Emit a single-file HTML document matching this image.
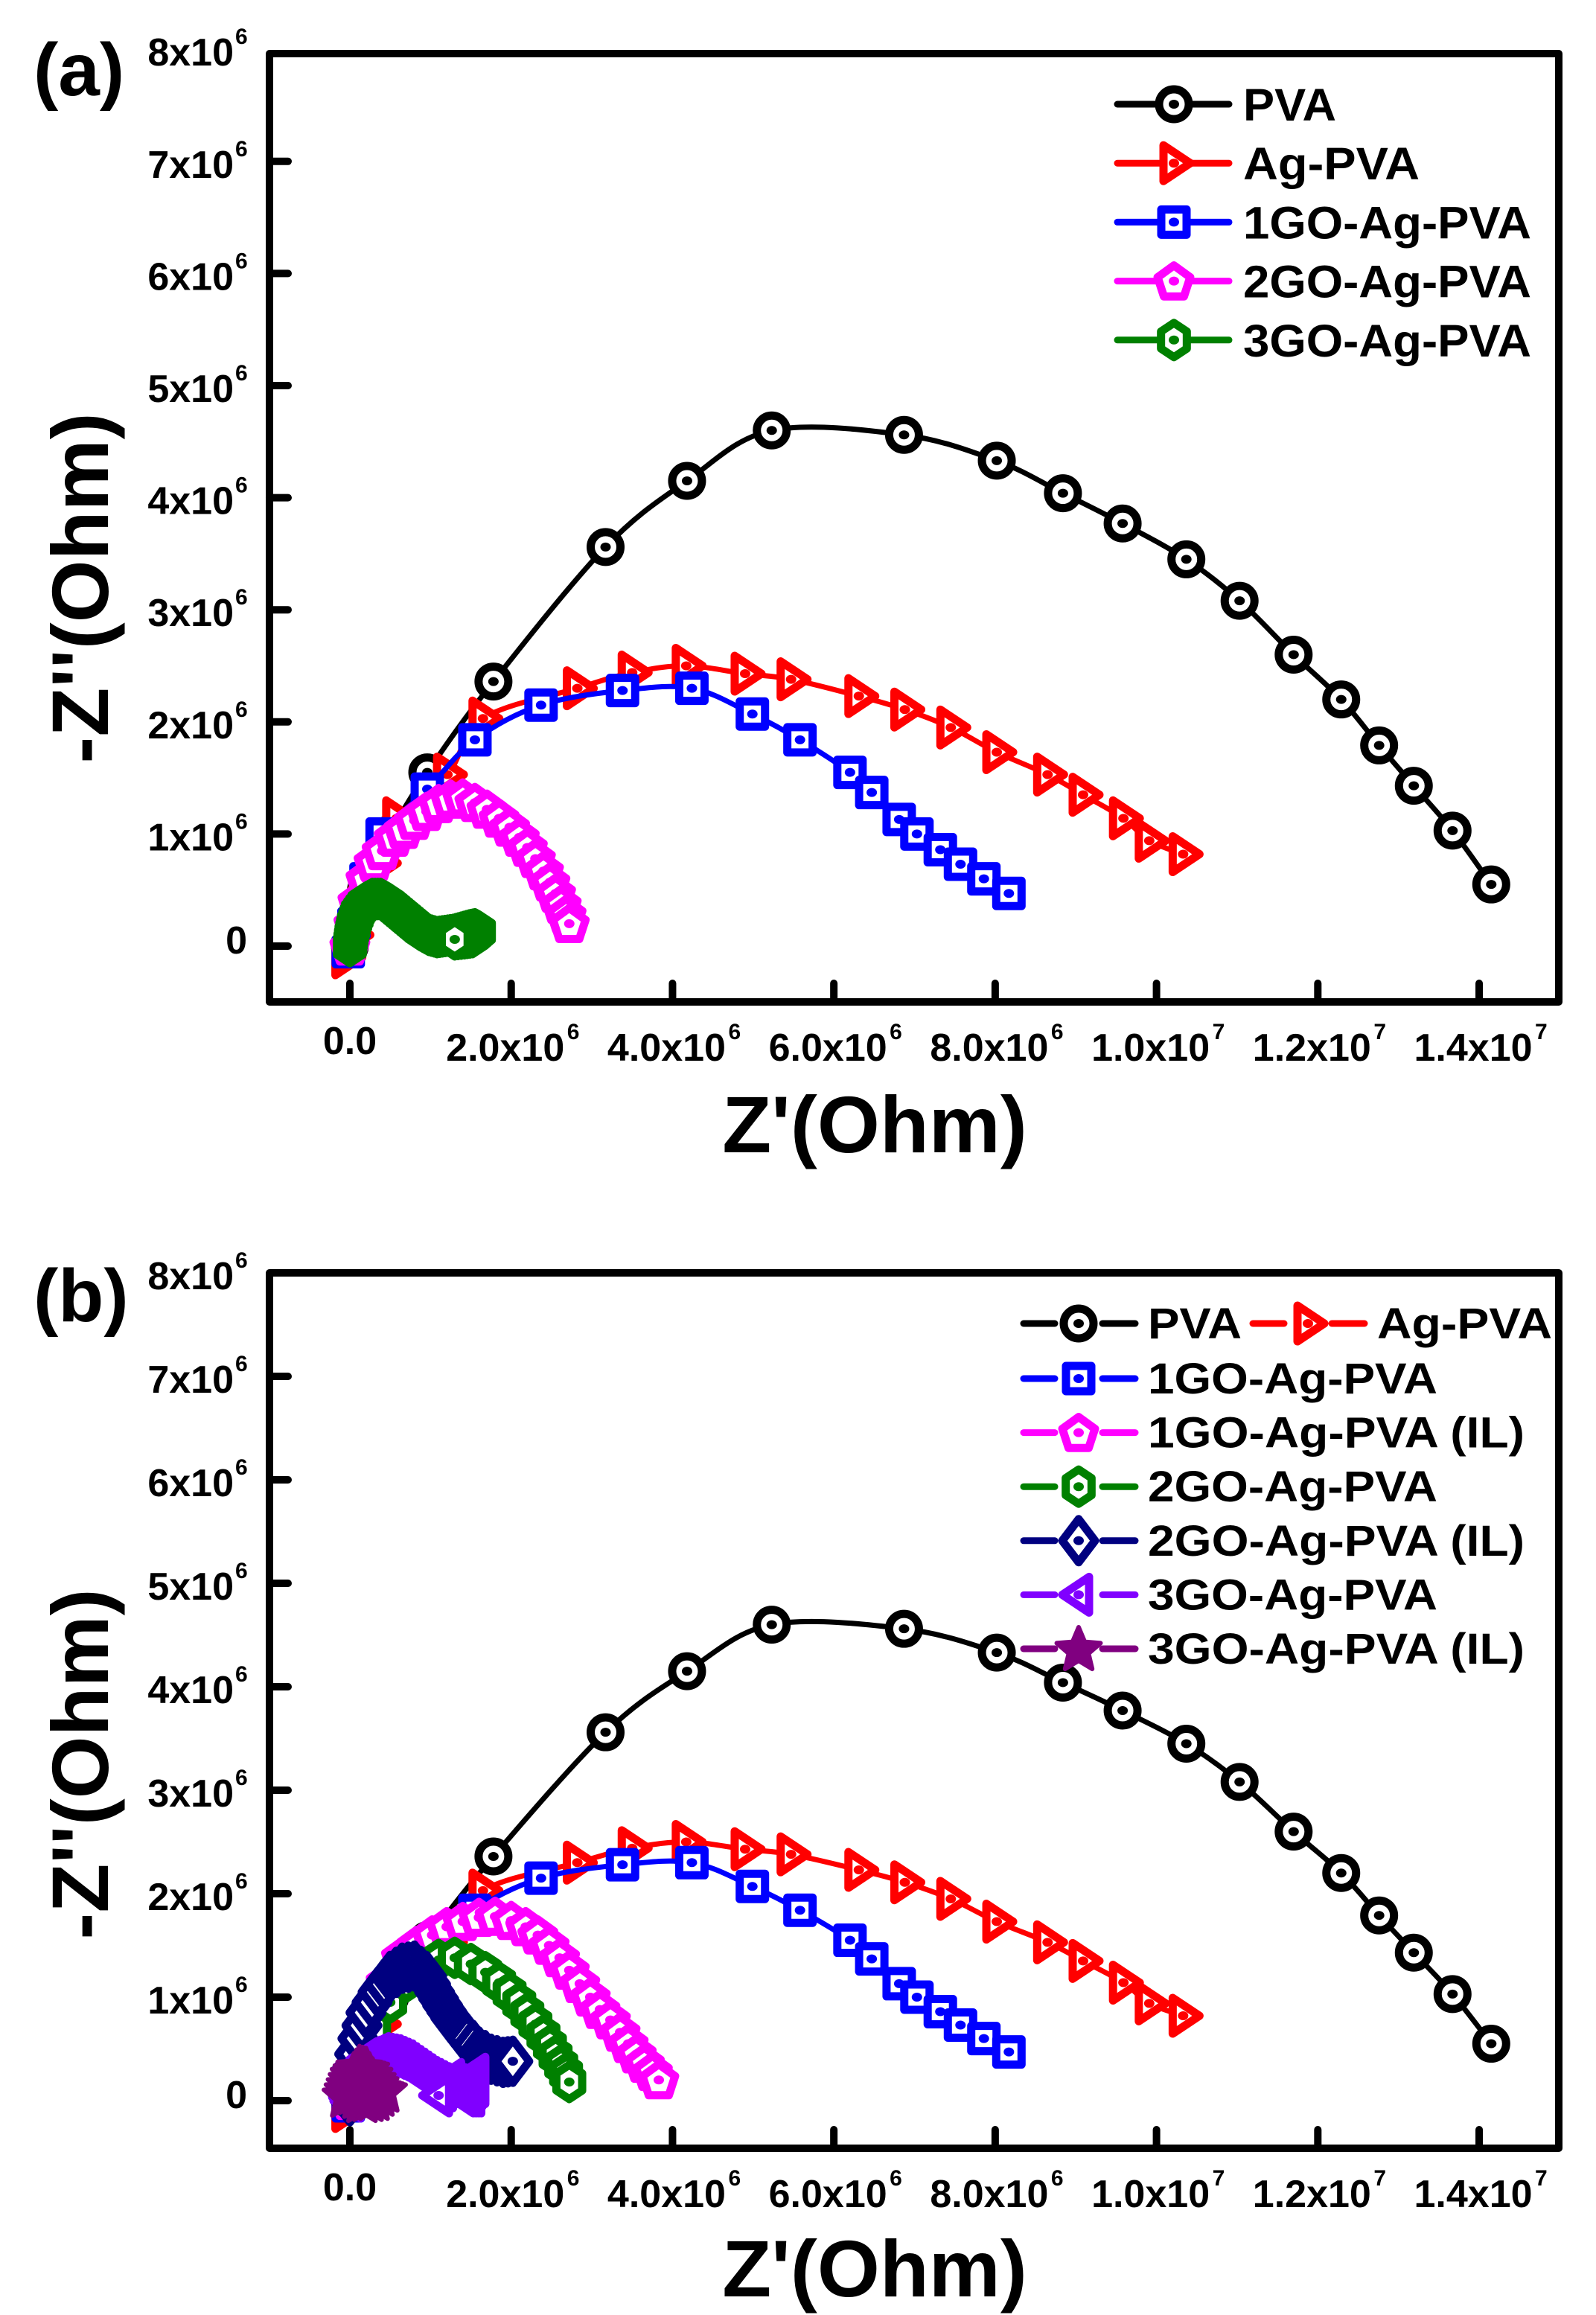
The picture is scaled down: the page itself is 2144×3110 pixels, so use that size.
<!DOCTYPE html>
<html><head><meta charset="utf-8">
<style>
html,body{margin:0;padding:0;background:#fff;}
svg{display:block;}
text{font-family:"Liberation Sans",Arial,sans-serif;font-weight:bold;fill:#000;}
</style></head>
<body>
<svg id="s" width="2144" height="3110" viewBox="0 0 2144 3110" xmlns="http://www.w3.org/2000/svg">
<rect width="2144" height="3110" fill="#fff"/>
<text x="45" y="128" font-size="100">(a)</text>
<text x="45" y="1775" font-size="100">(b)</text>
<text x="1175" y="1548" font-size="108" text-anchor="middle">Z'(Ohm)</text>
<text x="1175" y="3085" font-size="108" text-anchor="middle">Z'(Ohm)</text>
<text transform="translate(145,790) rotate(-90)" font-size="108" text-anchor="middle">-Z''(Ohm)</text>
<text transform="translate(145,2370) rotate(-90)" font-size="108" text-anchor="middle">-Z''(Ohm)</text>
<g id="g"></g>
</svg>
<script>
(function(){
var NS="http://www.w3.org/2000/svg";
var G=document.getElementById('g');
function el(t,a,p){var e=document.createElementNS(NS,t);for(var k in a)e.setAttribute(k,a[k]);(p||G).appendChild(e);return e;}
function txt(x,y,s,size,anchor,extra){var e=el('text',{x:x,y:y,'font-size':size,'text-anchor':anchor||'start'});if(extra)for(var k in extra)e.setAttribute(k,extra[k]);e.textContent=s;return e;}
var X0=470,XS=108.36;
function px(x){return X0+x*XS;}
var panels=[{top:72,bot:1346,y0:1271,ys:150.6},{top:1710,bot:2886,y0:2822,ys:139}];
panels.forEach(function(P){
  el('rect',{x:362,y:P.top,width:1732,height:P.bot-P.top,fill:'none',stroke:'#000','stroke-width':10,'stroke-linejoin':'round'});
  for(var i=0;i<=7;i++){
    var xx=px(2*i);
    el('line',{x1:xx,y1:P.bot,x2:xx,y2:P.bot-25,stroke:'#000','stroke-width':10,'stroke-linecap':'round'});
    var by=P.bot+(i==0?70:79);
    if(i==0){txt(xx,by,'0.0',52,'middle');}
    else{
      var base=i<5?(2*i)+'.0x10':(i==5?'1.0x10':(i==6?'1.2x10':'1.4x10'));
      var ex=i<5?'6':'7';
      var t=el('text',{x:xx-8,y:by,'font-size':52,'text-anchor':'middle'});
      t.textContent=base;
      var t2=el('text',{x:xx-8+83,y:by-29,'font-size':30});t2.textContent=ex;
    }
  }
  for(var j=0;j<=8;j++){
    var yy=P.y0-j*P.ys;
    if(j<8) el('line',{x1:362,y1:yy,x2:387,y2:yy,stroke:'#000','stroke-width':10,'stroke-linecap':'round'});
    if(j==0){txt(332,yy+10,'0',52,'end');}
    else{txt(314,yy+22,j+'x10',52,'end');txt(316,yy-7,'6',30,'start');}
  }
});
function markerPath(type,cx,cy,col,p,fill){
  var g=el('g',{},p);
  var sw=11,st={fill:fill||'#fff',stroke:col,'stroke-width':sw,'stroke-linejoin':'round'};
  function poly(pts){var a=Object.assign({points:pts.map(function(q){return (cx+q[0])+','+(cy+q[1]);}).join(' ')},st);el('polygon',a,g);}
  if(type=='circle'){el('circle',Object.assign({cx:cx,cy:cy,r:20},st),g);}
  else if(type=='tri'){poly([[-14,-24],[-14,24],[22,0]]);}
  else if(type=='ltri'){poly([[14,-24],[14,24],[-22,0]]);}
  else if(type=='sq'){poly([[-17,-17],[17,-17],[17,17],[-17,17]]);}
  else if(type=='pent'){var a=[];for(var k=0;k<5;k++){var an=-Math.PI/2+k*2*Math.PI/5;a.push([23*Math.cos(an),23*Math.sin(an)+2]);}poly(a);}
  else if(type=='hex'){var a=[];for(var k=0;k<6;k++){var an=-Math.PI/2+k*Math.PI/3;a.push([20*Math.cos(an),23*Math.sin(an)]);}poly(a);}
  else if(type=='dia'){poly([[0,-29],[22,0],[0,29],[-22,0]]);}
  else if(type=='star'){var a=[];for(var k=0;k<10;k++){var an=-Math.PI/2+k*Math.PI/5;var r=k%2?14:31;a.push([r*Math.cos(an),r*Math.sin(an)+2]);}el('polygon',{points:a.map(function(q){return (cx+q[0])+','+(cy+q[1]);}).join(' '),fill:col,stroke:col,'stroke-width':6,'stroke-linejoin':'round'},g);return;}
  el('ellipse',{cx:cx,cy:cy,rx:7,ry:6,fill:col},g);
}
function spline(pts){
  var d='M'+pts[0][0]+','+pts[0][1];
  for(var i=0;i<pts.length-1;i++){
    var p0=pts[i-1]||pts[i],p1=pts[i],p2=pts[i+1],p3=pts[i+2]||p2;
    var c1=[p1[0]+(p2[0]-p0[0])/6,p1[1]+(p2[1]-p0[1])/6],c2=[p2[0]-(p3[0]-p1[0])/6,p2[1]-(p3[1]-p1[1])/6];
    d+=' C'+c1[0]+','+c1[1]+' '+c2[0]+','+c2[1]+' '+p2[0]+','+p2[1];
  }
  return d;
}
function dens(d,n){var o=[];for(var i=0;i<d.length-1;i++){for(var k=0;k<n;k++){var t=k/n;o.push([d[i][0]+(d[i+1][0]-d[i][0])*t,d[i][1]+(d[i+1][1]-d[i][1])*t]);}}o.push(d[d.length-1]);return o;}
function series(P,data,col,type){
  var pts=data.map(function(q){return [px(q[0]),P.y0-q[1]*P.ys];});
  var g=el('g',{});
  el('path',{d:spline(pts),fill:'none',stroke:col,'stroke-width':7,'stroke-linejoin':'round','stroke-linecap':'round'},g);
  pts.forEach(function(q){markerPath(type,q[0],q[1],col,g);});
}
var PVA=[[0,0],[0.2,0.5],[0.5,1.0],[0.96,1.55],[1.78,2.36],[3.17,3.56],[4.18,4.15],[5.23,4.6],[6.87,4.56],[8.02,4.33],[8.84,4.04],[9.58,3.77],[10.37,3.45],[11.03,3.08],[11.70,2.6],[12.29,2.2],[12.76,1.79],[13.19,1.43],[13.67,1.03],[14.15,0.55]];
var AG=[[-0.05,-0.1],[0.05,0.1],[0.15,0.35],[0.39,0.74],[0.58,1.14],[1.21,1.53],[1.65,2.03],[2.82,2.3],[3.5,2.44],[4.17,2.5],[4.9,2.43],[5.47,2.38],[6.31,2.23],[6.88,2.11],[7.45,1.95],[8.02,1.73],[8.65,1.53],[9.09,1.35],[9.59,1.14],[9.91,0.94],[10.33,0.82]];
var GO1=[[-0.02,-0.05],[0.05,0.2],[0.2,0.6],[0.4,1.0],[0.96,1.4],[1.55,1.84],[2.37,2.15],[3.38,2.28],[4.24,2.3],[4.99,2.07],[5.58,1.84],[6.2,1.55],[6.47,1.37],[6.81,1.13],[7.03,1.0],[7.32,0.86],[7.57,0.73],[7.86,0.6],[8.17,0.47]];
var PINK=[[0,0],[0.05,0.2],[0.1,0.4],[0.2,0.6],[0.3,0.75],[0.4,0.85],[0.55,0.97],[0.67,1.04],[0.8,1.12],[0.95,1.2],[1.1,1.27],[1.25,1.31],[1.4,1.32],[1.55,1.28],[1.7,1.22],[1.85,1.14],[1.98,1.06],[2.1,0.97],[2.2,0.88],[2.3,0.78],[2.4,0.67],[2.48,0.57],[2.55,0.47],[2.62,0.37],[2.68,0.28],[2.72,0.2]];
var GREEN=dens([[0,0],[0.02,0.1],[0.05,0.2],[0.1,0.3],[0.18,0.38],[0.28,0.42],[0.38,0.42],[0.48,0.38],[0.58,0.32],[0.68,0.26],[0.78,0.2],[0.88,0.14],[0.98,0.1],[1.08,0.08],[1.18,0.09],[1.28,0.1],[1.38,0.12],[1.48,0.14],[1.55,0.15],[1.6,0.13],[1.52,0.08],[1.42,0.07],[1.3,0.06]],3);
var A=panels[0],B=panels[1];
series(A,PVA,'#000','circle');series(A,AG,'#f00','tri');series(A,GO1,'#00f','sq');series(A,PINK,'#f0f','pent');series(A,GREEN,'#008000','hex');
var PINKB=[[0,0],[0.05,0.3],[0.15,0.6],[0.3,0.9],[0.45,1.15],[0.64,1.39],[0.83,1.5],[1.02,1.6],[1.2,1.68],[1.4,1.73],[1.6,1.77],[1.8,1.78],[2.0,1.74],[2.18,1.68],[2.33,1.6],[2.47,1.5],[2.6,1.38],[2.72,1.26],[2.85,1.13],[2.98,1.0],[3.1,0.88],[3.23,0.78],[3.35,0.66],[3.45,0.55],[3.55,0.45],[3.65,0.36],[3.75,0.28],[3.83,0.2]];
var GREENB=[[0,0],[0.05,0.2],[0.15,0.45],[0.3,0.7],[0.5,0.95],[0.7,1.15],[0.9,1.28],[1.1,1.36],[1.3,1.38],[1.5,1.32],[1.68,1.24],[1.85,1.14],[1.98,1.04],[2.1,0.94],[2.2,0.84],[2.3,0.74],[2.4,0.63],[2.48,0.53],[2.55,0.43],[2.62,0.34],[2.68,0.26],[2.72,0.18]];
var NAVY=dens([[0,0],[0.02,0.3],[0.1,0.6],[0.2,0.85],[0.35,1.05],[0.5,1.2],[0.65,1.28],[0.8,1.3],[0.95,1.2],[1.05,1.05],[1.15,0.92],[1.25,0.8],[1.35,0.7],[1.45,0.6],[1.6,0.47],[1.75,0.4],[1.9,0.37],[2.02,0.38]],2);
var PURP=dens([[0,0],[-0.05,0.1],[0.0,0.2],[0.1,0.3],[0.2,0.4],[0.35,0.45],[0.5,0.43],[0.65,0.38],[0.8,0.3],[0.95,0.22],[1.1,0.16],[1.25,0.13],[1.4,0.12],[1.55,0.14],[1.55,0.25],[1.5,0.05],[1.4,0.05],[1.25,0.2],[1.1,0.05]],3);
var STAR=dens([[-0.05,0.05],[0,0.15],[0.05,0.25],[0.12,0.32],[0.2,0.3],[0.28,0.2],[0.35,0.12],[0.42,0.1],[0.3,0.02],[0.15,0.0],[0.05,0.08],[0.1,0.18],[0.25,0.15]],2);
series(B,PVA,'#000','circle');series(B,AG,'#f00','tri');series(B,GO1,'#00f','sq');series(B,PINKB,'#f0f','pent');series(B,GREENB,'#008000','hex');series(B,NAVY,'#000080','dia');series(B,PURP,'#8000ff','ltri');series(B,STAR,'#800080','star');
var LA=[['PVA','#000','circle',125],['Ag-PVA','#f00','tri',237],['1GO-Ag-PVA','#00f','sq',387],['2GO-Ag-PVA','#f0f','pent',387],['3GO-Ag-PVA','#008000','hex',387]];
LA.forEach(function(r,i){var y=140+i*79.2;
  el('line',{x1:1501,y1:y,x2:1651,y2:y,stroke:r[1],'stroke-width':9,'stroke-linecap':'round'});
  markerPath(r[2],1577,y,r[1],G);
  txt(1670,y+22,r[0],61,'start',{textLength:r[3],lengthAdjust:'spacingAndGlyphs'});
});
function legB(x0,y,col,type,label,w,tx){
  el('line',{x1:x0,y1:y,x2:x0+42,y2:y,stroke:col,'stroke-width':9,'stroke-linecap':'round'});
  el('line',{x1:x0+106,y1:y,x2:x0+150,y2:y,stroke:col,'stroke-width':9,'stroke-linecap':'round'});
  markerPath(type,x0+74,y,col,G,type=='star'?col:null);
  txt(tx,y+20,label,58,'start',{textLength:w,lengthAdjust:'spacingAndGlyphs'});
}
legB(1375,1778,'#000','circle','PVA',126,1542);
legB(1683,1778,'#f00','tri','Ag-PVA',235,1850);
var LB=[['1GO-Ag-PVA','#00f','sq',389],['1GO-Ag-PVA (IL)','#f0f','pent',506],['2GO-Ag-PVA','#008000','hex',389],['2GO-Ag-PVA (IL)','#000080','dia',506],['3GO-Ag-PVA','#8000ff','ltri',389],['3GO-Ag-PVA (IL)','#800080','star',506]];
LB.forEach(function(r,i){legB(1375,1852+i*72.6,r[1],r[2],r[0],r[3],1542);});
})();
</script>
</body></html>
